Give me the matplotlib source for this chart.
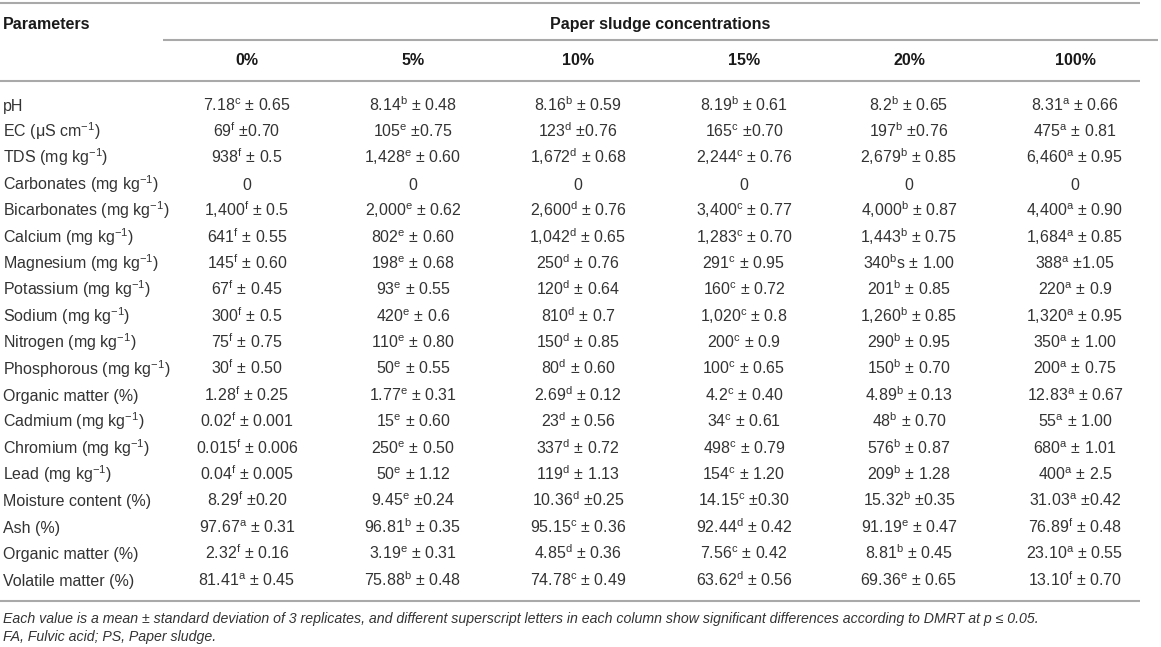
import matplotlib
matplotlib.use("Agg")
import matplotlib.pyplot as plt

plt.rcParams['font.family'] = ['Liberation Sans', 'DejaVu Sans']
plt.rcParams['mathtext.fontset'] = 'custom'
plt.rcParams['mathtext.rm'] = 'Liberation Sans'
plt.rcParams['mathtext.it'] = 'Liberation Sans:italic'
plt.rcParams['mathtext.bf'] = 'Liberation Sans:bold'

# ---------------- data ----------------
parameters = [
    "pH", "EC (μS cm$^{-1}$)", "TDS (mg kg$^{-1}$)", "Carbonates (mg kg$^{-1}$)",
    "Bicarbonates (mg kg$^{-1}$)", "Calcium (mg kg$^{-1}$)", "Magnesium (mg kg$^{-1}$)",
    "Potassium (mg kg$^{-1}$)", "Sodium (mg kg$^{-1}$)", "Nitrogen (mg kg$^{-1}$)",
    "Phosphorous (mg kg$^{-1}$)", "Organic matter (%)", "Cadmium (mg kg$^{-1}$)",
    "Chromium (mg kg$^{-1}$)", "Lead (mg kg$^{-1}$)", "Moisture content (%)",
    "Ash (%)", "Organic matter (%)", "Volatile matter (%)",
]
columns = ["0%", "5%", "10%", "15%", "20%", "100%"]

means_0 = ["7.18", "69", "938", "0", "1,400", "641", "145", "67", "300", "75", "30",
           "1.28", "0.02", "0.015", "0.04", "8.29", "97.67", "2.32", "81.41"]
letters_0 = ["c", "f", "f", "", "f", "f", "f", "f", "f", "f", "f",
             "f", "f", "f", "f", "f", "a", "f", "a"]
sd_0 = [" ± 0.65", " ±0.70", " ± 0.5", "", " ± 0.5", " ± 0.55", " ± 0.60", " ± 0.45",
        " ± 0.5", " ± 0.75", " ± 0.50", " ± 0.25", " ± 0.001", " ± 0.006", " ± 0.005",
        " ±0.20", " ± 0.31", " ± 0.16", " ± 0.45"]

means_5 = ["8.14", "105", "1,428", "0", "2,000", "802", "198", "93", "420", "110", "50",
           "1.77", "15", "250", "50", "9.45", "96.81", "3.19", "75.88"]
letters_5 = ["b", "e", "e", "", "e", "e", "e", "e", "e", "e", "e",
             "e", "e", "e", "e", "e", "b", "e", "b"]
sd_5 = [" ± 0.48", " ±0.75", " ± 0.60", "", " ± 0.62", " ± 0.60", " ± 0.68", " ± 0.55",
        " ± 0.6", " ± 0.80", " ± 0.55", " ± 0.31", " ± 0.60", " ± 0.50", " ± 1.12",
        " ±0.24", " ± 0.35", " ± 0.31", " ± 0.48"]

means_10 = ["8.16", "123", "1,672", "0", "2,600", "1,042", "250", "120", "810", "150", "80",
            "2.69", "23", "337", "119", "10.36", "95.15", "4.85", "74.78"]
letters_10 = ["b", "d", "d", "", "d", "d", "d", "d", "d", "d", "d",
              "d", "d", "d", "d", "d", "c", "d", "c"]
sd_10 = [" ± 0.59", " ±0.76", " ± 0.68", "", " ± 0.76", " ± 0.65", " ± 0.76", " ± 0.64",
         " ± 0.7", " ± 0.85", " ± 0.60", " ± 0.12", " ± 0.56", " ± 0.72", " ± 1.13",
         " ±0.25", " ± 0.36", " ± 0.36", " ± 0.49"]

means_15 = ["8.19", "165", "2,244", "0", "3,400", "1,283", "291", "160", "1,020", "200", "100",
            "4.2", "34", "498", "154", "14.15", "92.44", "7.56", "63.62"]
letters_15 = ["b", "c", "c", "", "c", "c", "c", "c", "c", "c", "c",
              "c", "c", "c", "c", "c", "d", "c", "d"]
sd_15 = [" ± 0.61", " ±0.70", " ± 0.76", "", " ± 0.77", " ± 0.70", " ± 0.95", " ± 0.72",
         " ± 0.8", " ± 0.9", " ± 0.65", " ± 0.40", " ± 0.61", " ± 0.79", " ± 1.20",
         " ±0.30", " ± 0.42", " ± 0.42", " ± 0.56"]

means_20 = ["8.2", "197", "2,679", "0", "4,000", "1,443", "340", "201", "1,260", "290", "150",
            "4.89", "48", "576", "209", "15.32", "91.19", "8.81", "69.36"]
letters_20 = ["b", "b", "b", "", "b", "b", "b", "b", "b", "b", "b",
              "b", "b", "b", "b", "b", "e", "b", "e"]
sd_20 = [" ± 0.65", " ±0.76", " ± 0.85", "", " ± 0.87", " ± 0.75", "s ± 1.00", " ± 0.85",
         " ± 0.85", " ± 0.95", " ± 0.70", " ± 0.13", " ± 0.70", " ± 0.87", " ± 1.28",
         " ±0.35", " ± 0.47", " ± 0.45", " ± 0.65"]

means_100 = ["8.31", "475", "6,460", "0", "4,400", "1,684", "388", "220", "1,320", "350", "200",
             "12.83", "55", "680", "400", "31.03", "76.89", "23.10", "13.10"]
letters_100 = ["a", "a", "a", "", "a", "a", "a", "a", "a", "a", "a",
               "a", "a", "a", "a", "a", "f", "a", "f"]
sd_100 = [" ± 0.81" if False else " ± 0.66", " ± 0.81", " ± 0.95", "", " ± 0.90", " ± 0.85",
          " ±1.05", " ± 0.9", " ± 0.95", " ± 1.00", " ± 0.75", " ± 0.67", " ± 1.00",
          " ± 1.01", " ± 2.5", " ±0.42", " ± 0.48", " ± 0.55", " ± 0.70"]

group_title = "Paper sludge concentrations"
header_left = "Parameters"
footnote_1 = ("Each value is a mean ± standard deviation of 3 replicates, and different "
              "superscript letters in each column show significant differences according "
              "to DMRT at p ≤ 0.05.")
footnote_2 = "FA, Fulvic acid; PS, Paper sludge."

col_means = [means_0, means_5, means_10, means_15, means_20, means_100]
col_letters = [letters_0, letters_5, letters_10, letters_15, letters_20, letters_100]
col_sds = [sd_0, sd_5, sd_10, sd_15, sd_20, sd_100]

# ---------------- layout ----------------
W, H = 1161, 647
fig = plt.figure(figsize=(W / 100, H / 100), dpi=100)
ax = fig.add_axes([0, 0, 1, 1])
ax.set_xlim(0, W)
ax.set_ylim(H, 0)
ax.axis('off')

FS = 11.5
body_color = '#333333'
head_color = '#1a1a1a'
line_color = '#a9a9a9'
lw = 1.5

col_x = [247, 413, 578, 744, 909, 1075]
left_x = 3
row0, row_step = 105, 26.39
base_off = 5.6

def hline(y, x0, x1):
    ax.plot([x0, x1], [y, y], color=line_color, lw=lw, solid_capstyle='butt')

hline(3, 0, 1140)
hline(40, 163, 1158)
hline(81, 0, 1140)
hline(601, 0, 1140)

ax.text(left_x, 23 + base_off, header_left, fontsize=FS, fontweight='bold',
        color=head_color, ha='left', va='baseline')
ax.text(660, 23 + base_off, group_title, fontsize=FS, fontweight='bold',
        color=head_color, ha='center', va='baseline')
for cx, c in zip(col_x, columns):
    ax.text(cx, 59 + base_off, c, fontsize=FS, fontweight='bold',
            color=head_color, ha='center', va='baseline')

for i, p in enumerate(parameters):
    y = row0 + i * row_step + base_off
    ax.text(left_x, y, p, fontsize=FS, color=body_color, ha='left', va='baseline')
    for cx, ms, ls, ss in zip(col_x, col_means, col_letters, col_sds):
        m, l, s = ms[i], ls[i], ss[i]
        if l:
            txt = m + r"$^{\mathrm{" + l + r"}}$" + s
        else:
            txt = m + s
        ax.text(cx, y, txt, fontsize=FS, color=body_color, ha='center', va='baseline')

# footnotes: fit first line to its measured width
fn = ax.text(left_x, 618 + 5, footnote_1, fontsize=10, style='italic',
             color=body_color, ha='left', va='baseline')
fig.canvas.draw()
wpx = fn.get_window_extent(fig.canvas.get_renderer()).width
fs_fn = max(8.5, min(11.5, 10 * 1038 / wpx))
fn.set_fontsize(fs_fn)
ax.text(left_x, 636 + 5, footnote_2, fontsize=fs_fn, style='italic',
        color=body_color, ha='left', va='baseline')

fig.savefig("out.png", dpi=100)
